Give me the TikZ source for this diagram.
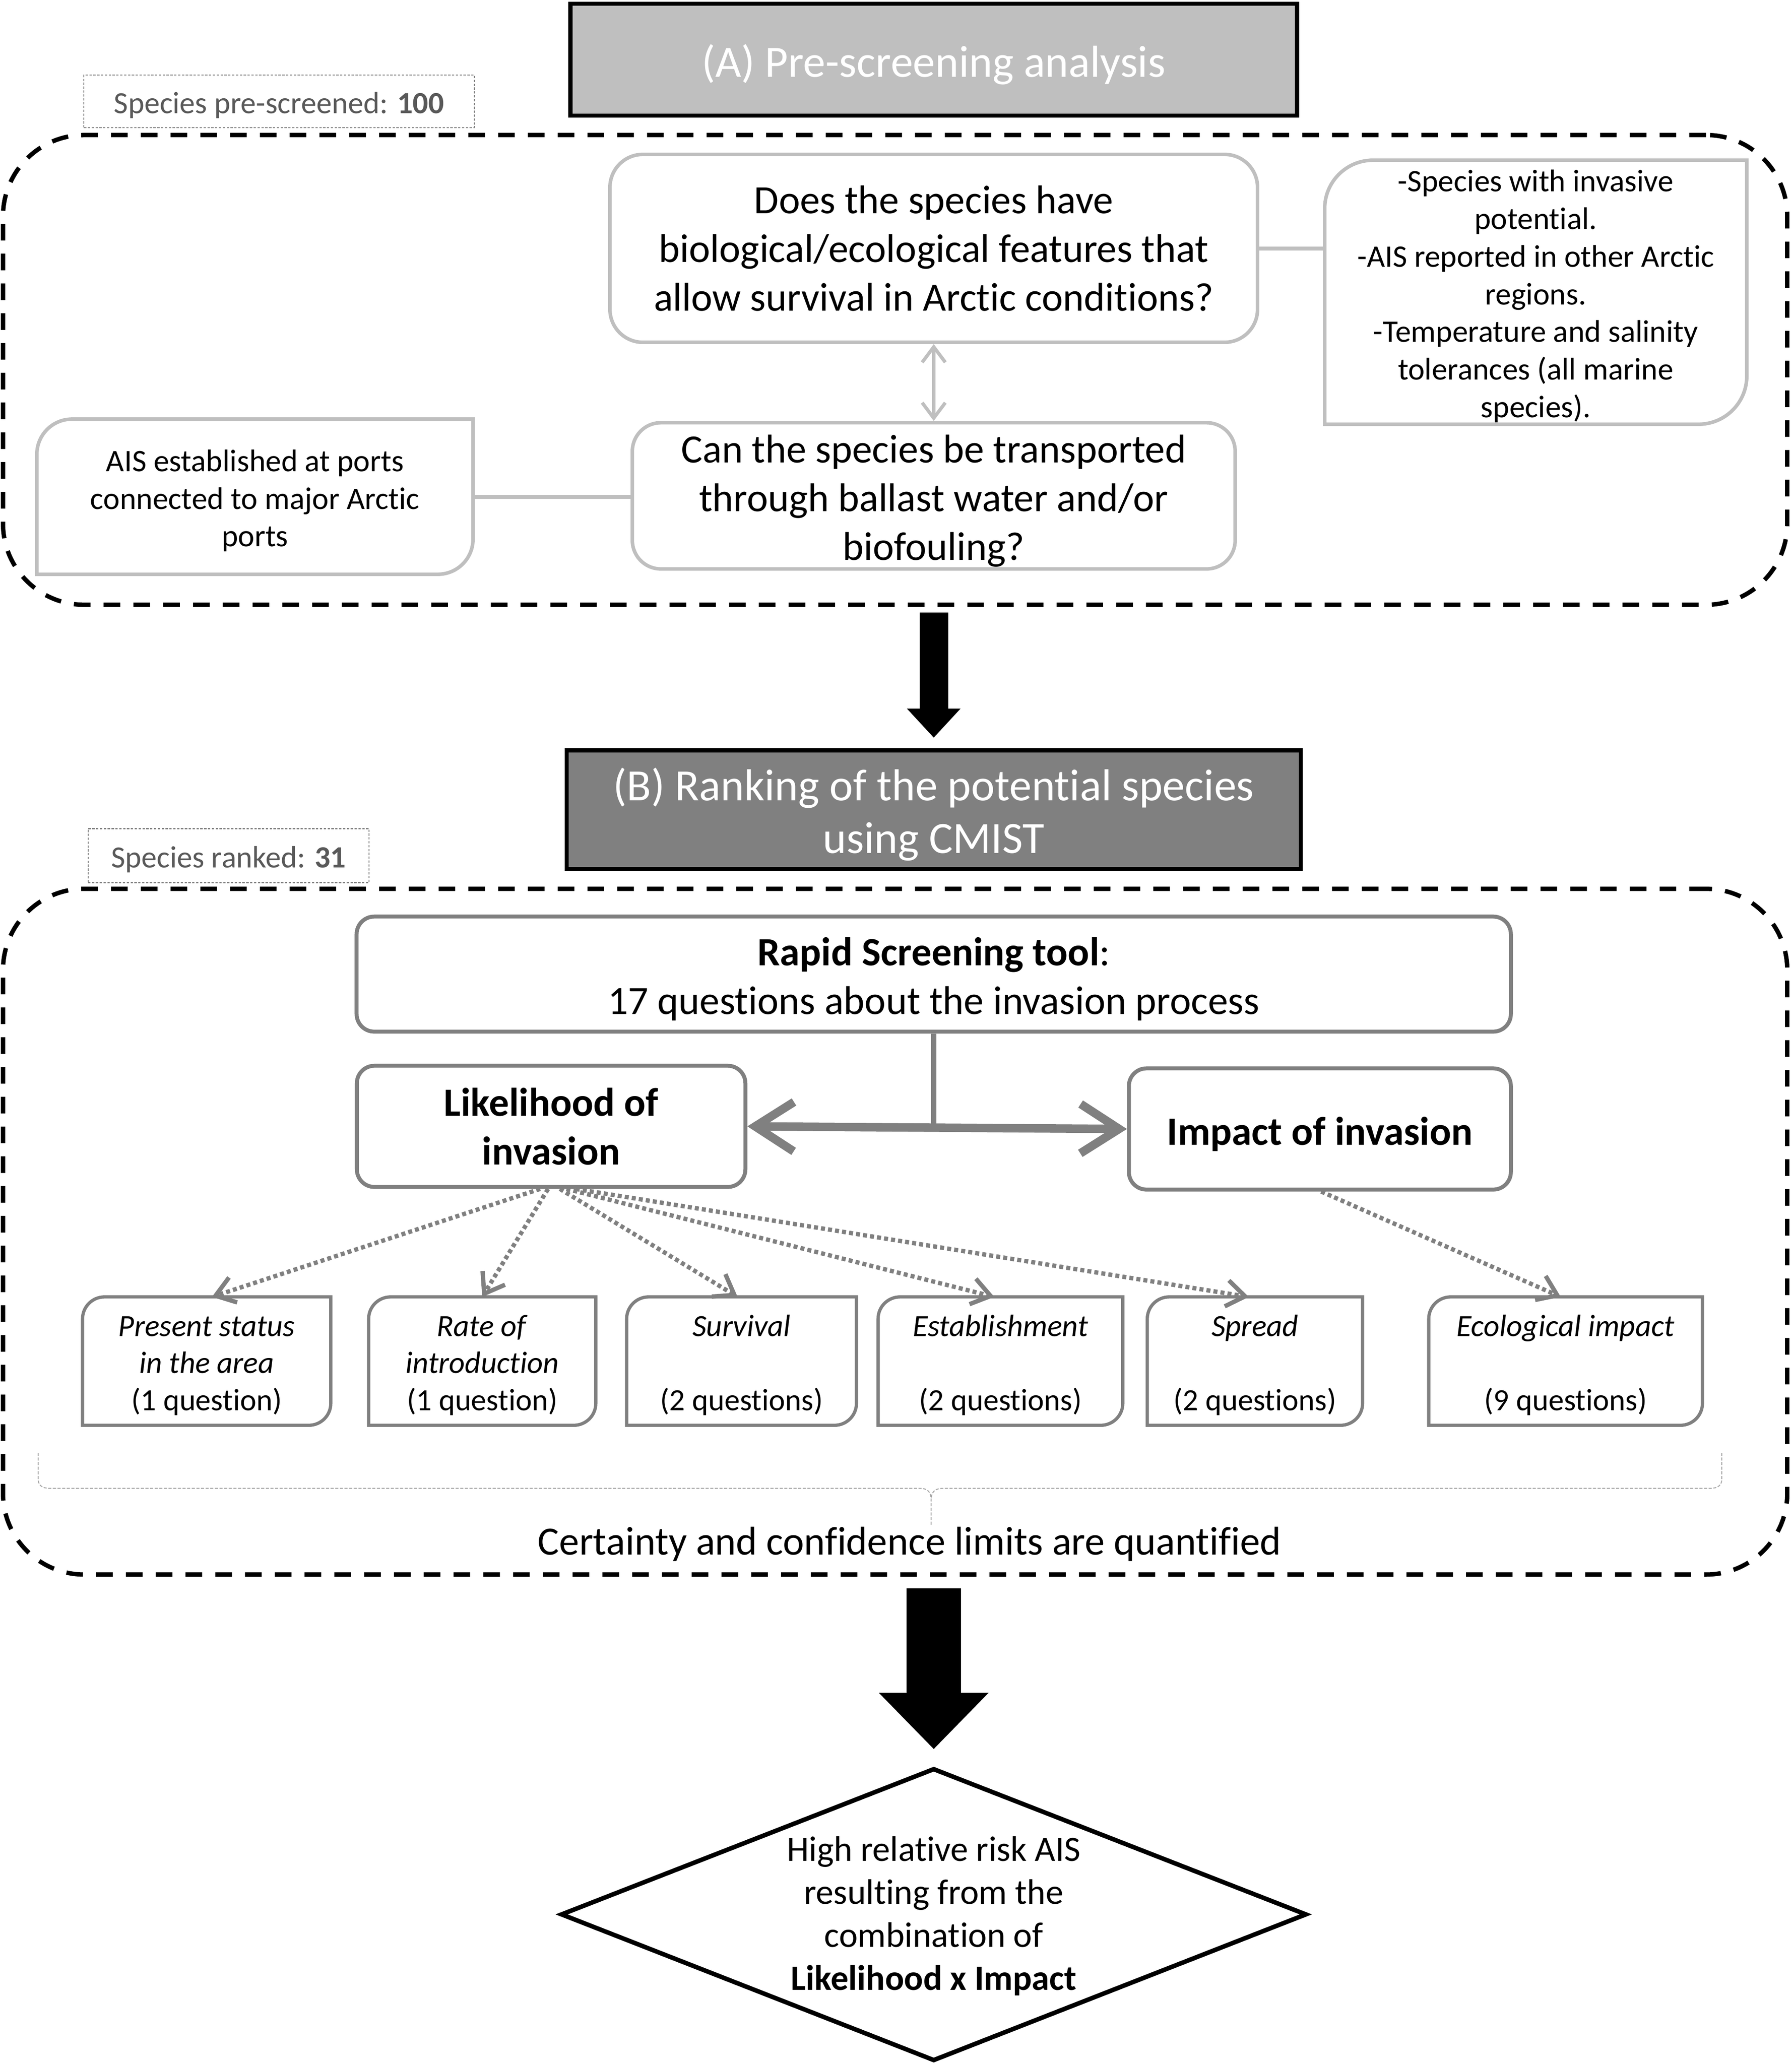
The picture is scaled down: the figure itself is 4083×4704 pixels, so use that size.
\documentclass[tikz,border=0pt]{standalone}
\usepackage{fontspec}
\setmainfont{Carlito}[Ligatures={NoCommon}]
\usetikzlibrary{arrows.meta,calc}
\definecolor{cLG}{HTML}{BFBFBF}
\definecolor{cM}{HTML}{808080}
\definecolor{cT}{HTML}{595959}
\definecolor{cBr}{HTML}{A6A6A6}
\newcommand\fHead{\fontsize{29}{34}\selectfont}
\newcommand\fQ{\fontsize{26}{31.6}\selectfont}
\newcommand\fS{\fontsize{20.3}{24.4}\selectfont}
\newcommand\fL{\fontsize{20}{24}\selectfont}
\newcommand\fD{\fontsize{23}{27.9}\selectfont}
\newcommand\sh{\rule{0pt}{0.95em}}
\newcommand\drshape[3]{\draw[#1] ($(#2.north west)+(0,#3)$) -- (#2.south west) -- ($(#2.south east)+(-#3,0)$) .. controls +(0.552*#3,0) and +(0,0.552*#3) .. ($(#2.south east)+(0,-#3)$) -- (#2.north east) -- ($(#2.north west)+(#3,0)$) .. controls +(-0.552*#3,0) and +(0,-0.552*#3) .. ($(#2.north west)+(0,#3)$) -- cycle;}
\tikzset{
  hdr/.style={draw=black, line width=2.6pt, text=white, align=center, inner sep=0pt, font=\fHead},
  spbox/.style={draw=cM, line width=0.7pt, dash pattern=on 1.5pt off 1pt, text=cT, inner sep=0pt, font=\fL},
  bigbox/.style={draw=black, line width=2.85pt, dash pattern=on 10.8pt off 8.5pt, rounded corners=1.85cm, inner sep=0pt},
  qbox/.style={draw=cLG, line width=2.3pt, align=center, inner sep=0pt, font=\fQ},
  txtbox/.style={align=center, inner sep=0pt},
  lgline/.style={draw=cLG, line width=2.56pt},
  lgout/.style={draw=cLG, line width=2.3pt},
  mout/.style={draw=cM, line width=2.1pt},
  bbox/.style={draw=cM, line width=2.56pt, rounded corners=0.4cm, align=center, inner sep=0pt, font=\fQ},
  dotarr/.style={draw=cM, line width=2.8pt, dash pattern=on 2.6pt off 2.0pt, -{Straight Barb[length=12pt,width=17pt]}},
  bigarr/.style={fill=black},
}
\begin{document}
\begin{tikzpicture}[x=0.01cm, y=-0.01cm]
\useasboundingbox (0,0) rectangle (4083,4704);
% ---------- Section A ----------
\node[hdr, fill=cLG, minimum width=16.55cm, minimum height=2.55cm] (hA) at (2128,136) {\sh(A) Pre-screening analysis};
\node[spbox, minimum width=8.89cm, minimum height=1.2cm] (spA) at (636,231) {\sh Species pre-screened: \textbf{100}};
\node[bigbox, minimum width=40.64cm, minimum height=10.7cm] (boxA) at (2040,843) {};
\node[qbox, minimum width=14.75cm, minimum height=4.28cm, rounded corners=0.75cm] (q1) at (2128,566) {Does the species have\\biological/ecological features that\\allow survival in Arctic conditions?};
\node[qbox, minimum width=13.73cm, minimum height=3.33cm, rounded corners=0.65cm] (q2) at (2128,1130) {\sh Can the species be transported\\through ballast water and/or\\biofouling?};
\node[txtbox, font=\fS, minimum width=9.6cm, minimum height=6.0cm] (r1) at (3500,666) {\sh-Species with invasive\\potential.\\-AIS reported in other Arctic\\regions.\\-Temperature and salinity\\tolerances (all marine\\species).};
\drshape{lgout}{r1}{110}
\node[txtbox, font=\fS, minimum width=9.92cm, minimum height=3.52cm] (l1) at (581,1132) {\sh AIS established at ports\\connected to major Arctic\\ports};
\drshape{lgout}{l1}{80}
\draw[lgline] (q1.east) -- (q1.east -| r1.west);
\draw[lgline] (l1.east) -- (l1.east -| q2.west);
\draw[draw=cLG, line width=2.2pt, {Straight Barb[length=10pt,width=15pt]}-{Straight Barb[length=10pt,width=15pt]}] (q1.south) -- (q2.north);
% big arrow 1
\fill[bigarr] (2096,1396) -- (2161,1396) -- (2161,1615) -- (2189,1615) -- (2128,1681) -- (2067,1615) -- (2096,1615) -- cycle;
% ---------- Section B ----------
\node[hdr, fill=cM, minimum width=16.72cm, minimum height=2.70cm] (hB) at (2128,1845) {\sh(B) Ranking of the potential species\\using CMIST};
\node[spbox, minimum width=6.4cm, minimum height=1.23cm] (spB) at (521,1950) {\sh Species ranked: \textbf{31}};
\node[bigbox, minimum width=40.64cm, minimum height=15.62cm] (boxB) at (2040,2807) {};
\node[bbox, minimum width=26.29cm, minimum height=2.62cm] (rapid) at (2128,2220) {\sh\textbf{Rapid Screening tool}:\\17 questions about the invasion process};
\node[bbox, minimum width=8.85cm, minimum height=2.76cm] (lik) at (1256,2567) {\textbf{Likelihood of}\\\textbf{invasion}};
\node[bbox, minimum width=8.70cm, minimum height=2.76cm] (imp) at (3008,2573) {\sh\textbf{Impact of invasion}};
\coordinate (junc) at (rapid.south |- lik.east);
\draw[draw=cM, line width=3.4pt] (rapid.south) -- (junc);
\draw[draw=cM, line width=5.5pt, {Straight Barb[length=25pt,width=32pt]}-{Straight Barb[length=25pt,width=32pt]}] (lik.east) -- (imp.west);
% small boxes
\node[txtbox, font=\fL, minimum width=5.64cm, minimum height=2.91cm] (s1) at (471,3102) {\sh\textit{Present status}\\\textit{in the area}\\(1 question)};
\node[txtbox, font=\fL, minimum width=5.16cm, minimum height=2.91cm] (s2) at (1099,3102) {\sh\textit{Rate of}\\\textit{introduction}\\(1 question)};
\node[txtbox, font=\fL, minimum width=5.22cm, minimum height=2.91cm] (s3) at (1690,3102) {\sh\textit{Survival}\\\mbox{}\\(2 questions)};
\node[txtbox, font=\fL, minimum width=5.56cm, minimum height=2.91cm] (s4) at (2280,3102) {\sh\textit{Establishment}\\\mbox{}\\(2 questions)};
\node[txtbox, font=\fL, minimum width=4.89cm, minimum height=2.91cm] (s5) at (2860,3102) {\sh\textit{Spread}\\\mbox{}\\(2 questions)};
\node[txtbox, font=\fL, minimum width=6.22cm, minimum height=2.91cm] (s6) at (3568,3102) {\sh\textit{Ecological impact}\\\mbox{}\\(9 questions)};
\foreach \n in {s1,s2,s3,s4,s5,s6}{\drshape{mout}{\n}{50}}
\draw[dotarr] ($(lik.south)+(-25,0)$) -- ($(s1.north)+(12,0)$);
\draw[dotarr] ($(lik.south)+(-7,0)$) -- (s2.north);
\draw[dotarr] ($(lik.south)+(20,0)$) -- ($(s3.north)+(-9,0)$);
\draw[dotarr] ($(lik.south)+(35,0)$) -- ($(s4.north)+(-14,0)$);
\draw[dotarr] ($(lik.south)+(56,0)$) -- ($(s5.north)+(-14,0)$);
\draw[dotarr] ($(imp.south)+(3,0)$) -- ($(s6.north)+(-11,0)$);
% brace
\draw[draw=cBr, line width=0.6pt, dash pattern=on 2pt off 1pt] (87,3311) -- (87,3370) .. controls (87,3385) and (95,3392) .. (115,3392) -- (2095,3392) .. controls (2115,3392) and (2122,3400) .. (2122,3420) -- (2122,3475);
\draw[draw=cBr, line width=0.6pt, dash pattern=on 2pt off 1pt] (3924,3311) -- (3924,3370) .. controls (3924,3385) and (3916,3392) .. (3896,3392) -- (2150,3392) .. controls (2130,3392) and (2122,3400) .. (2122,3420);
\node[inner sep=0pt, font=\fQ, anchor=base] (cert) at (2073,3543) {Certainty and confidence limits are quantified};
% big arrow 2
\fill[bigarr] (2066,3620) -- (2190,3620) -- (2190,3858) -- (2253,3858) -- (2128,3986) -- (2003,3858) -- (2066,3858) -- cycle;
% diamond
\node[txtbox, font=\fD] (risk) at (2128,4367) {High relative risk AIS\\resulting from the\\combination of\\\textbf{Likelihood x Impact}};
\draw[draw=black, line width=2.9pt] ($(risk)+(-848,-4)$) -- ($(risk)+(0,-335)$) -- ($(risk)+(848,-4)$) -- ($(risk)+(0,328)$) -- cycle;
\end{tikzpicture}
\end{document}
